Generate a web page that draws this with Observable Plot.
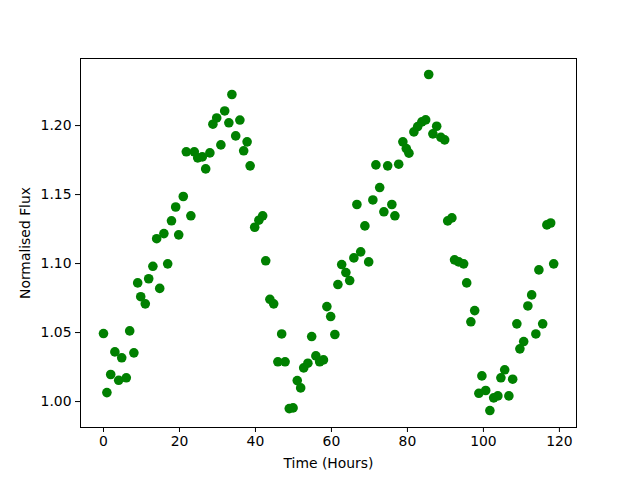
<!DOCTYPE html>
<html>
<head>
<meta charset="utf-8">
<script src="https://cdn.jsdelivr.net/npm/d3@7"></script>
<script src="https://cdn.jsdelivr.net/npm/@observablehq/plot@0.6"></script>
<style>
  html, body { margin: 0; padding: 0; background: #fff; }
  svg { font-family: "DejaVu Sans", sans-serif; }
</style>
</head>
<body>
<div id="chart"></div>
<script>
const hours = [
  0, 0.9, 1.9, 3.0, 4.0, 4.8, 6.0, 6.9, 8.0, 9.0,
  9.8, 11.0, 11.9, 13.0, 14.0, 14.8, 15.9, 16.9, 17.9, 19.0,
  19.8, 21.0, 21.8, 23.0, 23.9, 24.8, 26.0, 26.9, 28.0, 28.8,
  29.8, 30.9, 31.9, 33.0, 33.8, 34.8, 35.9, 36.9, 37.8, 38.6,
  39.8, 40.9, 41.9, 42.7, 43.8, 44.8, 45.9, 46.9, 47.8, 48.9,
  49.9, 51.0, 51.9, 52.7, 53.8, 54.8, 55.9, 56.9, 57.9, 58.8,
  59.8, 60.9, 61.7, 62.7, 63.8, 64.8, 65.9, 66.7, 67.7, 68.8,
  69.8, 70.9, 71.7, 72.7, 73.8, 74.8, 75.9, 76.7, 77.7, 78.8,
  79.7, 80.4, 81.7, 82.7, 83.8, 84.8, 85.6, 86.7, 87.7, 88.8,
  89.8, 90.6, 91.7, 92.4, 93.5, 94.8, 95.6, 96.7, 97.7, 98.8,
  99.6, 100.6, 101.7, 102.7, 103.8, 104.6, 105.6, 106.7, 107.7, 108.8,
  109.6, 110.6, 111.7, 112.7, 113.8, 114.6, 115.6, 116.7, 117.7, 118.5
];
const flux = [
  1.0493, 1.0065, 1.0196, 1.0360, 1.0154, 1.0317, 1.0172, 1.0512, 1.0353, 1.0860,
  1.0760, 1.0708, 1.0890, 1.0980, 1.1180, 1.0820, 1.1217, 1.0998, 1.1310, 1.1410,
  1.1208, 1.1486, 1.1810, 1.1346, 1.1810, 1.1766, 1.1773, 1.1686, 1.1802, 1.2010,
  1.2055, 1.1860, 1.2106, 1.2020, 1.2225, 1.1925, 1.2040, 1.1817, 1.1882, 1.1708,
  1.1263, 1.1314, 1.1346, 1.1020, 1.0741, 1.0708, 1.0288, 1.0490, 1.0288, 0.9949,
  0.9954, 1.0152, 1.0099, 1.0244, 1.0278, 1.0471, 1.0331, 1.0288, 1.0302, 1.0688,
  1.0616, 1.0486, 1.0848, 1.0993, 1.0935, 1.0877, 1.1041, 1.1428, 1.1085, 1.1273,
  1.1012, 1.1461, 1.1715, 1.1551, 1.1375, 1.1708, 1.1428, 1.1346, 1.1720, 1.1882,
  1.1833, 1.1800, 1.1954, 1.1993, 1.2027, 1.2041, 1.2370, 1.1940, 1.1995, 1.1915,
  1.1896, 1.1309, 1.1331, 1.1027, 1.1012, 1.0998, 1.0860, 1.0578, 1.0659, 1.0060,
  1.0186, 1.0080, 0.9935, 1.0027, 1.0041, 1.0172, 1.0230, 1.0041, 1.0162, 1.0563,
  1.0382, 1.0435, 1.0693, 1.0773, 1.0490, 1.0954, 1.0563, 1.1280, 1.1294, 1.0998
];
const xTicks = [0, 20, 40, 60, 80, 100, 120];
const yTicks = [1.00, 1.05, 1.10, 1.15, 1.20];

const data = hours.map((h, i) => ({h, f: flux[i]}));

const chart = Plot.plot({
  width: 640,
  height: 480,
  marginLeft: 80,
  marginRight: 64,
  marginTop: 58,
  marginBottom: 53,
  style: {fontFamily: "DejaVu Sans, sans-serif", fontSize: "13.9px", color: "black", background: "white"},
  x: {domain: [-6.05, 124.5], ticks: xTicks, tickFormat: d3.format("d")},
  y: {domain: [0.9812, 1.2486], ticks: yTicks, tickFormat: d3.format(".2f")},
  marks: [
    Plot.dot(data, {x: "h", y: "f", r: 4.8, fill: "green", stroke: "none"}),
    Plot.frame({stroke: "black", strokeWidth: 1}),
    Plot.axisX({ticks: xTicks, tickFormat: d3.format("d"), tickSize: 5, tickPadding: 4,
      label: "Time (Hours)", labelAnchor: "center", labelArrow: "none", labelOffset: 40}),
    Plot.axisY({ticks: yTicks, tickFormat: d3.format(".2f"), tickSize: 5, tickPadding: 4,
      label: "Normalised Flux", labelAnchor: "center", labelArrow: "none", labelOffset: 60})
  ]
});
document.getElementById("chart").appendChild(chart);
</script>
</body>
</html>
